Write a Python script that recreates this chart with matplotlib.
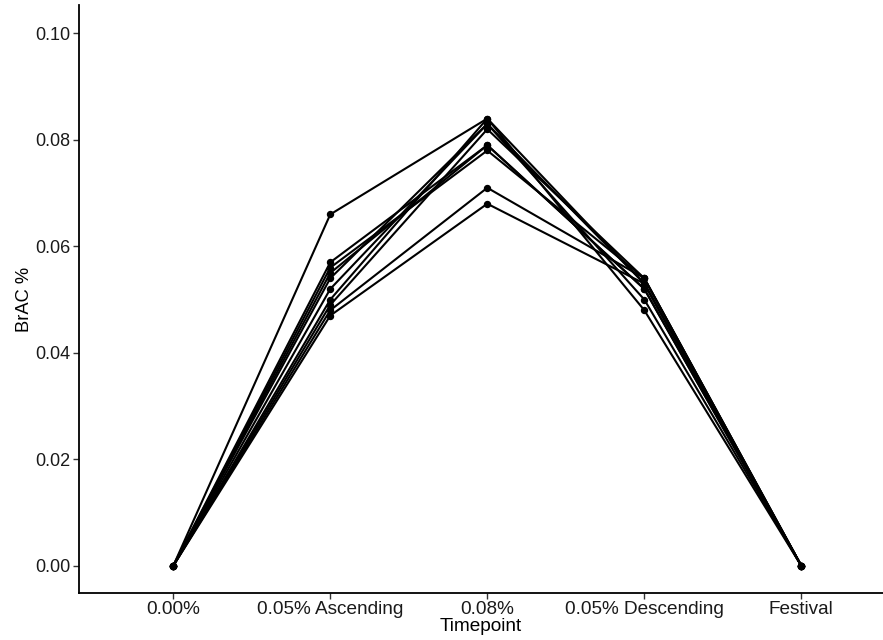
import numpy as np
import matplotlib
matplotlib.use("Agg")
import matplotlib.pyplot as plt

timepoints = ["0.00%", "0.05% Ascending", "0.08%", "0.05% Descending", "Festival"]

# BrAC per subject across timepoints
baseline = [0, 0, 0, 0, 0, 0, 0, 0, 0, 0]
ascending = [0.066, 0.057, 0.056, 0.055, 0.054, 0.052, 0.050, 0.049, 0.048, 0.047]
peak = [0.084, 0.079, 0.078, 0.079, 0.083, 0.083, 0.084, 0.082, 0.071, 0.068]
descending = [0.053, 0.052, 0.054, 0.052, 0.053, 0.050, 0.048, 0.054, 0.054, 0.053]
festival = [0, 0, 0, 0, 0, 0, 0, 0, 0, 0]

plt.rcParams['font.family'] = ['Liberation Sans', 'DejaVu Sans']

fig = plt.figure(figsize=(8.83, 6.4), dpi=100)
ax = fig.add_axes([0.0895, 0.0734, 0.9105, 0.9186])

data = np.array([baseline, ascending, peak, descending, festival])
x = np.arange(len(timepoints))
for i in range(data.shape[1]):
    ax.plot(x, data[:, i], color='black', lw=1.5, marker='o', ms=4.3)

ax.set_xlim(-0.6, 4.52)
ax.set_ylim(-0.0051, 0.1053)
ax.set_xticks(x)
ax.set_xticklabels(timepoints)
ax.set_yticks([0, 0.02, 0.04, 0.06, 0.08, 0.10])
ax.set_yticklabels(["0.00", "0.02", "0.04", "0.06", "0.08", "0.10"])
ax.tick_params(axis='x', labelsize=13.7, length=4, width=1, pad=2,
               colors='#333333', labelcolor='#1a1a1a')
ax.tick_params(axis='y', labelsize=13, length=4, width=1, pad=2,
               colors='#333333', labelcolor='#1a1a1a')
ax.set_xlabel("Timepoint", fontsize=13.7, labelpad=0)
ax.set_ylabel("BrAC %", fontsize=13.2, labelpad=2)
for s in ['top', 'right']:
    ax.spines[s].set_visible(False)
for s in ['left', 'bottom']:
    ax.spines[s].set_linewidth(1.3)

fig.savefig("out.png", dpi=100)
